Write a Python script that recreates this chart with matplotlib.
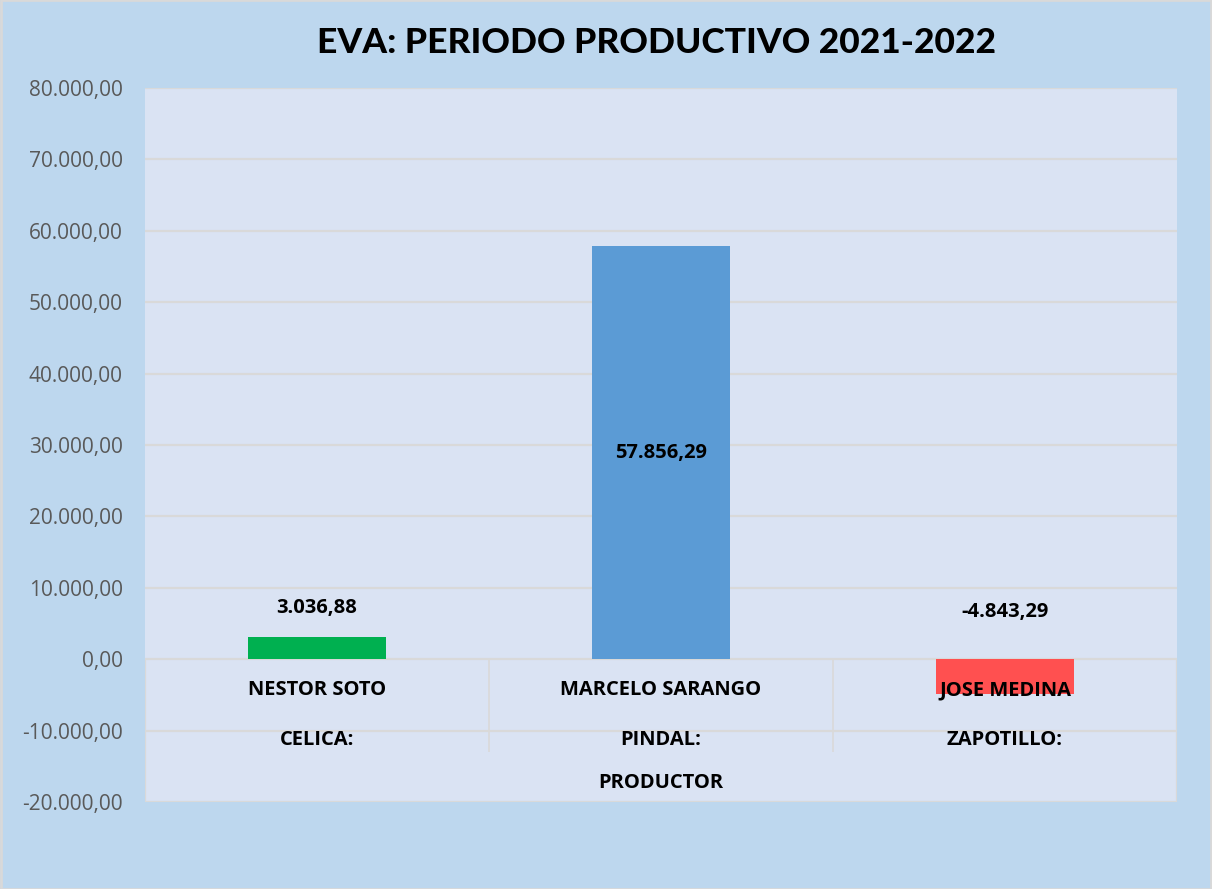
import matplotlib.pyplot as plt
from matplotlib.ticker import FuncFormatter, MultipleLocator

# EVA por productor, periodo 2021-2022
productores = ["NESTOR SOTO", "MARCELO SARANGO", "JOSE MEDINA"]
cantones = ["CELICA:", "PINDAL:", "ZAPOTILLO:"]
eva = [3036.88, 57856.29, -4843.29]
colores = ["#00B050", "#5B9BD5", "#FF5050"]

FIG_BG = "#BDD7EE"
PLOT_BG = "#DAE3F3"
GRID = "#D9D9D9"


def miles(v, _pos=None):
    s = f"{v:,.2f}"
    return s.replace(",", "X").replace(".", ",").replace("X", ".")


fig = plt.figure(figsize=(12.12, 8.89), dpi=100, facecolor=FIG_BG)
fig.patches.append(plt.Rectangle((0.001, 0), 0.998, 1, transform=fig.transFigure,
                                 fill=False, edgecolor=GRID, linewidth=2))
ax = fig.add_axes([0.1196, 0.0979, 0.8515, 0.8031], facecolor=PLOT_BG)

x = range(len(eva))
ax.bar(x, eva, width=0.4, color=colores, zorder=3)

ax.set_xlim(-0.5, 2.5)
ax.set_ylim(-20000, 80000)
ax.yaxis.set_major_locator(MultipleLocator(10000))
ax.yaxis.set_major_formatter(FuncFormatter(miles))
ax.yaxis.grid(True, color=GRID, linewidth=1.6, zorder=0)
ax.set_axisbelow(True)
ax.set_xticks([])
ax.tick_params(axis="y", length=0, pad=16, labelsize=15, labelcolor="#595959")
for lbl in ax.get_yticklabels():
    lbl.set_fontfamily("Open Sans")
for s in ax.spines.values():
    s.set_visible(False)

# separadores de categorias bajo el eje
ax.vlines([0.5, 1.5], -13000, 0, color=GRID, linewidth=1.2, zorder=1)
ax.vlines([-0.5, 2.5], -20000, 0, color=GRID, linewidth=1.6, zorder=1)

lab_font = dict(family="Open Sans", fontweight="bold", fontsize=14.5,
                ha="center", va="center", color="black", zorder=5)
for i, (p, c) in enumerate(zip(productores, cantones)):
    ax.text(i, -4350, p, **lab_font)
    ax.text(i, -11350, c, **lab_font)
ax.text(1, -17400, "PRODUCTOR", **lab_font)

# etiquetas de datos
label_y = [eva[0] + 4100, eva[1] / 2, 6580]
for i, (v, y) in enumerate(zip(eva, label_y)):
    ax.text(i, y, miles(v), **lab_font)

fig.text(0.542, 0.952, "EVA: PERIODO PRODUCTIVO 2021-2022", ha="center", va="center",
         fontsize=25.5, fontweight="black", family="Lato", color="black")

fig.savefig("out.png", dpi=100, facecolor=FIG_BG)
